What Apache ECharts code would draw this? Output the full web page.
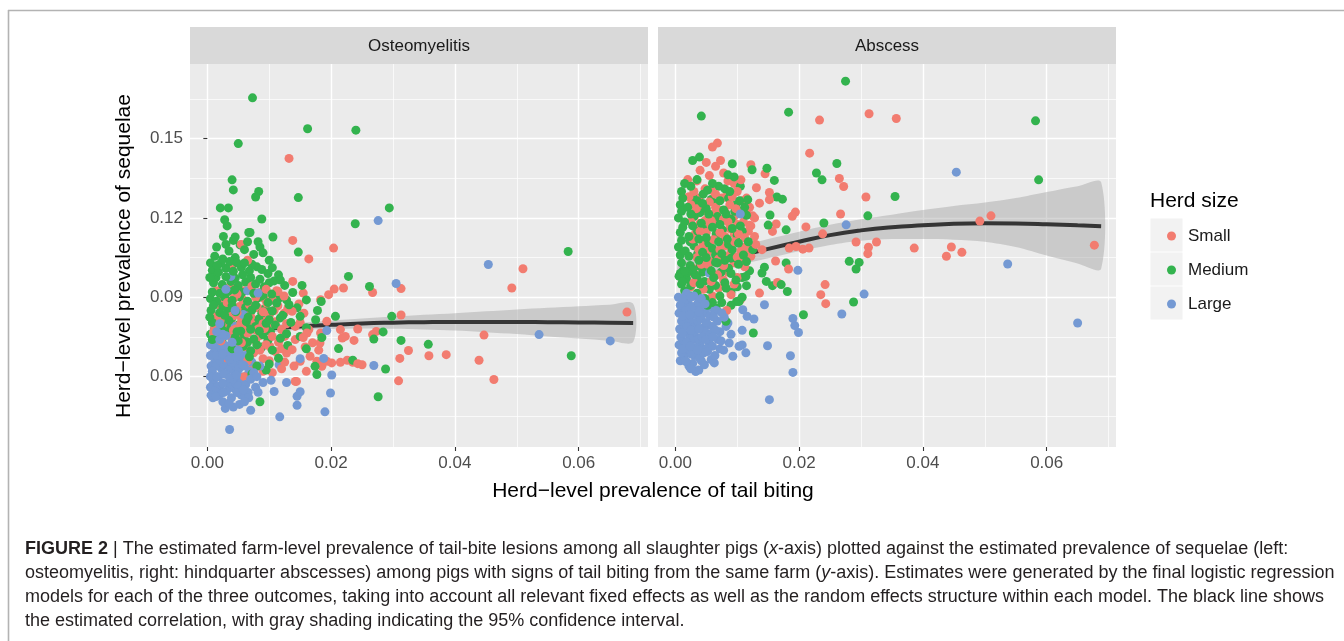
<!DOCTYPE html>
<html>
<head>
<meta charset="utf-8">
<script src="https://cdn.jsdelivr.net/npm/echarts@6/dist/echarts.min.js"></script>
<style>
html,body{margin:0;padding:0;background:#fff;}
#chart{width:1344px;height:641px;}
</style>
</head>
<body>
<div id="chart"></div>
<script>
// ---------- DATA ----------
const panels = ['Osteomyelitis', 'Abscess'];
const sizeNames = ['Small', 'Medium', 'Large'];
const xTicks = [0, 0.02, 0.04, 0.06];
const xMinor = [0.01, 0.03, 0.05, 0.07];
const yTicks = [0.06, 0.09, 0.12, 0.15];
const yMinor = [0.045, 0.075, 0.105, 0.135, 0.165];

const oSmall = [
[0.0015,0.0925],[0.0028,0.0935],[0.0037,0.0938],[0.0048,0.0912],[0.0060,0.0925],[0.0072,0.0942],[0.0085,0.0918],[0.0095,0.0930],[0.0112,0.0925],[0.0124,0.0905],
[0.0020,0.0870],[0.0032,0.0880],[0.0052,0.0865],[0.0068,0.0872],[0.0082,0.0860],[0.0096,0.0878],[0.0114,0.0868],[0.0130,0.0858],[0.0148,0.0875],
[0.0016,0.0828],[0.0026,0.0820],[0.0042,0.0830],[0.0055,0.0822],[0.0070,0.0828],[0.0087,0.0818],[0.0100,0.0832],[0.0124,0.0840],[0.0137,0.0847],[0.0156,0.0840],
[0.0012,0.0785],[0.0030,0.0792],[0.0046,0.0780],[0.0062,0.0788],[0.0080,0.0775],[0.0098,0.0786],[0.0120,0.0778],[0.0142,0.0790],[0.0161,0.0765],[0.0164,0.0778],[0.0183,0.0765],[0.0193,0.0809],
[0.0022,0.0735],[0.0040,0.0740],[0.0055,0.0728],[0.0078,0.0735],[0.0095,0.0721],[0.0101,0.0714],[0.0115,0.0730],[0.0142,0.0740],[0.0170,0.0728],
[0.0021,0.0670],[0.0032,0.0670],[0.0053,0.0683],[0.0075,0.0690],[0.0090,0.0668],[0.0110,0.0695],[0.0128,0.0689],[0.0137,0.0702],[0.0150,0.0658],[0.0166,0.0677],[0.0177,0.0658],[0.0185,0.0639],[0.0193,0.0658],[0.0201,0.0652],
[0.0069,0.0626],[0.0080,0.0639],[0.0105,0.0615],[0.0120,0.0630],[0.0142,0.0582],[0.0060,0.0600],[0.0045,0.0640],
[0.0055,0.1100],[0.0040,0.1020],[0.0065,0.1040],
[0.0025,0.0900],[0.0042,0.0895],[0.0058,0.0890],[0.0078,0.0900],[0.0092,0.0895],[0.0105,0.0890],
[0.0035,0.0850],[0.0048,0.0842],[0.0062,0.0848],[0.0090,0.0845],[0.0108,0.0850],
[0.0020,0.0805],[0.0038,0.0808],[0.0054,0.0800],[0.0072,0.0805],[0.0090,0.0800],[0.0110,0.0808],[0.0128,0.0800],[0.0150,0.0805],
[0.0030,0.0760],[0.0048,0.0758],[0.0065,0.0765],[0.0085,0.0755],[0.0105,0.0752],[0.0125,0.0752],[0.0155,0.0748],
[0.0035,0.0710],[0.0048,0.0700],[0.0062,0.0712],[0.0085,0.0700],[0.0120,0.0705],[0.0158,0.0712],[0.0180,0.0700],
[0.0065,0.0660],[0.0100,0.0660],[0.0125,0.0655],[0.0140,0.0640],[0.0160,0.0620],[0.0090,0.0620],
[0.0010,0.0768],[0.0035,0.0772],[0.0058,0.0776],[0.0075,0.0780],[0.0092,0.0782],
[0.0018,0.0772],[0.0042,0.0775],[0.0066,0.0778],[0.0083,0.0781],[0.0100,0.0783],
[0.0132,0.1425],[0.0138,0.1115],[0.0204,0.1086],[0.0164,0.1045],[0.0155,0.0916],[0.0138,0.0960],[0.0114,0.0922],[0.0183,0.0891],[0.0196,0.0910],[0.0205,0.0931],[0.0220,0.0935],
[0.0215,0.0778],[0.0223,0.0752],[0.0218,0.0746],[0.0237,0.0737],[0.0243,0.0780],[0.0267,0.0759],[0.0273,0.0771],
[0.0215,0.0654],[0.0235,0.0654],[0.0243,0.0649],[0.0226,0.0662],[0.0250,0.0645],[0.0267,0.0918],
[0.0313,0.0933],[0.0313,0.0833],[0.0311,0.0669],[0.0309,0.0584],[0.0325,0.0699],[0.0358,0.0679],[0.0386,0.0683],[0.0439,0.0662],[0.0447,0.0757],[0.0463,0.0589],[0.0492,0.0935],[0.0510,0.1008],[0.0678,0.0844],
[0.0144,0.0582],[0.0182,0.0727]
];
const oMedium = [
[0.0073,0.1654],[0.0162,0.1537],[0.0240,0.1532],[0.0050,0.1481],[0.0040,0.1344],[0.0042,0.1306],[0.0083,0.1300],[0.0078,0.1279],[0.0147,0.1277],[0.0294,0.1238],
[0.0021,0.1238],[0.0034,0.1238],[0.0239,0.1178],[0.0028,0.1193],[0.0032,0.1170],[0.0088,0.1196],[0.0069,0.1145],[0.0067,0.1145],[0.0026,0.1130],[0.0045,0.1128],[0.0106,0.1128],[0.0082,0.1110],[0.0147,0.1071],
[0.0012,0.1055],[0.0025,0.1045],[0.0035,0.1075],[0.0045,0.1050],[0.0060,0.1080],[0.0075,0.1062],[0.0090,0.1068],[0.0053,0.1098],[0.0022,0.1030],
[0.0008,0.1002],[0.0018,0.0995],[0.0030,0.1010],[0.0042,0.0998],[0.0055,0.1012],[0.0068,0.1000],[0.0080,0.1015],[0.0098,0.0990],[0.0115,0.0985],[0.0048,0.1030],
[0.0010,0.0955],[0.0024,0.0948],[0.0038,0.0960],[0.0050,0.0945],[0.0062,0.0958],[0.0078,0.0950],[0.0092,0.0940],[0.0108,0.0962],[0.0125,0.0945],[0.0153,0.0945],
[0.0005,0.0895],[0.0015,0.0885],[0.0028,0.0900],[0.0040,0.0888],[0.0052,0.0902],[0.0065,0.0885],[0.0082,0.0898],[0.0098,0.0880],[0.0115,0.0895],[0.0132,0.0872],[0.0145,0.0860],[0.0160,0.0890],
[0.0006,0.0850],[0.0020,0.0842],[0.0033,0.0858],[0.0046,0.0845],[0.0058,0.0838],[0.0072,0.0852],[0.0088,0.0840],[0.0105,0.0848],[0.0122,0.0832],[0.0178,0.0850],[0.0184,0.0884],
[0.0008,0.0805],[0.0022,0.0798],[0.0035,0.0812],[0.0050,0.0795],[0.0063,0.0808],[0.0078,0.0790],[0.0095,0.0802],[0.0110,0.0795],[0.0135,0.0805],[0.0175,0.0815],[0.0207,0.0828],
[0.0005,0.0760],[0.0018,0.0752],[0.0030,0.0765],[0.0045,0.0748],[0.0060,0.0755],[0.0075,0.0742],[0.0090,0.0758],[0.0118,0.0745],[0.0150,0.0752],[0.0185,0.0748],
[0.0012,0.0720],[0.0040,0.0705],[0.0058,0.0715],[0.0070,0.0698],[0.0088,0.0712],[0.0105,0.0700],[0.0130,0.0718],[0.0160,0.0705],
[0.0060,0.0655],[0.0080,0.0640],[0.0095,0.0625],[0.0072,0.0610],[0.0045,0.0575],[0.0174,0.0639],[0.0177,0.0608],[0.0085,0.0505],
[0.0015,0.1090],[0.0030,0.1100],[0.0042,0.1115],[0.0065,0.1110],[0.0085,0.1090],[0.0100,0.1040],
[0.0005,0.1030],[0.0016,0.1020],[0.0036,0.1035],[0.0060,0.1030],[0.0072,0.1025],[0.0088,0.1005],[0.0105,0.1012],
[0.0004,0.0975],[0.0014,0.0975],[0.0030,0.0978],[0.0045,0.0972],[0.0057,0.0985],[0.0070,0.0975],[0.0085,0.0968],[0.0100,0.0955],[0.0118,0.0965],
[0.0008,0.0920],[0.0020,0.0915],[0.0034,0.0922],[0.0044,0.0928],[0.0056,0.0918],[0.0075,0.0915],[0.0090,0.0905],[0.0104,0.0912],[0.0138,0.0918],
[0.0010,0.0870],[0.0025,0.0865],[0.0040,0.0868],[0.0062,0.0862],[0.0078,0.0870],[0.0094,0.0858],[0.0112,0.0878],[0.0128,0.0890],
[0.0004,0.0825],[0.0015,0.0818],[0.0028,0.0832],[0.0040,0.0822],[0.0066,0.0825],[0.0083,0.0818],[0.0100,0.0815],[0.0118,0.0822],[0.0150,0.0828],
[0.0012,0.0780],[0.0025,0.0775],[0.0038,0.0785],[0.0054,0.0772],[0.0068,0.0780],[0.0084,0.0772],[0.0102,0.0770],[0.0128,0.0762],[0.0160,0.0785],
[0.0008,0.0740],[0.0024,0.0730],[0.0050,0.0735],[0.0065,0.0730],[0.0080,0.0720],[0.0098,0.0738],
[0.0115,0.0670],[0.0100,0.0648],[0.0068,0.0675],
[0.0020,0.0772],[0.0048,0.0770],[0.0085,0.0785],
[0.0028,0.0769],[0.0053,0.0777],[0.0070,0.0779],[0.0095,0.0784],
[0.0228,0.0979],[0.0262,0.0941],[0.0269,0.0742],[0.0288,0.0629],[0.0276,0.0524],[0.0313,0.0737],[0.0357,0.0722],[0.0298,0.0828],[0.0284,0.0769],
[0.0583,0.1073],[0.0588,0.0679],[0.0235,0.0662],[0.0212,0.0706]
];
const oLarge = [
[0.0005,0.0720],[0.0010,0.0690],[0.0012,0.0655],[0.0008,0.0620],[0.0010,0.0580],[0.0012,0.0545],[0.0009,0.0520],
[0.0020,0.0740],[0.0022,0.0700],[0.0020,0.0665],[0.0023,0.0630],[0.0018,0.0600],[0.0021,0.0565],[0.0019,0.0530],[0.0025,0.0505],
[0.0030,0.0755],[0.0032,0.0715],[0.0030,0.0680],[0.0033,0.0645],[0.0030,0.0610],[0.0034,0.0575],[0.0031,0.0545],[0.0029,0.0480],
[0.0040,0.0730],[0.0042,0.0690],[0.0040,0.0655],[0.0043,0.0620],[0.0041,0.0590],[0.0044,0.0555],[0.0039,0.0520],[0.0042,0.0485],
[0.0050,0.0700],[0.0052,0.0665],[0.0051,0.0630],[0.0054,0.0600],[0.0050,0.0565],[0.0055,0.0530],[0.0052,0.0495],
[0.0062,0.0680],[0.0060,0.0640],[0.0064,0.0605],[0.0062,0.0570],[0.0066,0.0540],[0.0060,0.0505],
[0.0072,0.0655],[0.0075,0.0615],[0.0078,0.0560],
[0.0005,0.0680],[0.0006,0.0640],[0.0005,0.0600],[0.0005,0.0560],[0.0006,0.0530],
[0.0015,0.0715],[0.0015,0.0680],[0.0014,0.0640],[0.0015,0.0600],[0.0016,0.0560],[0.0014,0.0525],
[0.0026,0.0720],[0.0025,0.0685],[0.0026,0.0648],[0.0027,0.0610],[0.0025,0.0575],[0.0026,0.0540],
[0.0036,0.0700],[0.0036,0.0665],[0.0037,0.0630],[0.0036,0.0595],[0.0038,0.0560],[0.0035,0.0500],
[0.0046,0.0710],[0.0047,0.0675],[0.0046,0.0640],[0.0047,0.0605],[0.0046,0.0575],[0.0048,0.0540],
[0.0056,0.0680],[0.0057,0.0645],[0.0056,0.0580],[0.0058,0.0550],
[0.0068,0.0620],[0.0070,0.0590],[0.0067,0.0520],[0.0080,0.0600],[0.0085,0.0640],[0.0025,0.0760],[0.0010,0.0760],
[0.0015,0.0770],[0.0045,0.0790],[0.0030,0.0930],[0.0065,0.0925],[0.0045,0.0850],[0.0058,0.0835],[0.0020,0.0800],
[0.0276,0.1190],[0.0305,0.0952],[0.0454,0.1024],[0.0536,0.0759],[0.0651,0.0735],[0.0269,0.0642],[0.0201,0.0606],[0.0199,0.0538],[0.0190,0.0467],[0.0193,0.0774],
[0.0145,0.0492],[0.0150,0.0543],[0.0145,0.0526],[0.0117,0.0448],[0.0108,0.0544],[0.0128,0.0578],[0.0150,0.0668],[0.0188,0.0669],[0.0116,0.0645],
[0.0036,0.0400],[0.0070,0.0473],[0.0082,0.0541],[0.0038,0.0979],[0.0082,0.0916],[0.0090,0.0578],[0.0103,0.0586]
];

const aSmall = [
[0.0060,0.1468],[0.0068,0.1483],[0.0073,0.1417],[0.0040,0.1380],[0.0055,0.1360],[0.0085,0.1340],[0.0020,0.1345],
[0.0030,0.1300],[0.0048,0.1310],[0.0065,0.1290],[0.0082,0.1280],[0.0100,0.1300],[0.0115,0.1275],
[0.0025,0.1250],[0.0040,0.1240],[0.0055,0.1260],[0.0070,0.1230],[0.0088,0.1250],[0.0105,0.1225],[0.0120,0.1240],
[0.0032,0.1210],[0.0048,0.1190],[0.0062,0.1215],[0.0078,0.1195],[0.0095,0.1205],[0.0110,0.1185],[0.0128,0.1200],
[0.0040,0.1150],[0.0056,0.1170],[0.0072,0.1145],[0.0088,0.1160],[0.0102,0.1140],[0.0118,0.1150],
[0.0028,0.1120],[0.0045,0.1100],[0.0062,0.1118],[0.0080,0.1095],[0.0096,0.1110],[0.0112,0.1090],[0.0130,0.1100],[0.0140,0.1080],
[0.0035,0.1050],[0.0052,0.1070],[0.0070,0.1045],[0.0088,0.1060],[0.0106,0.1040],[0.0122,0.1055],
[0.0030,0.0990],[0.0050,0.1005],[0.0068,0.0985],[0.0085,0.0995],[0.0100,0.0975],
[0.0025,0.0940],[0.0045,0.0930],[0.0070,0.0935],[0.0090,0.0910],[0.0105,0.0890],[0.0083,0.0850],
[0.0035,0.1340],[0.0050,0.1410],[0.0065,0.1395],[0.0078,0.1370],[0.0095,0.1330],
[0.0022,0.1280],[0.0038,0.1275],[0.0058,0.1305],[0.0075,0.1275],[0.0092,0.1280],[0.0108,0.1265],
[0.0034,0.1235],[0.0050,0.1225],[0.0065,0.1240],[0.0080,0.1225],[0.0098,0.1235],[0.0115,0.1220],
[0.0025,0.1185],[0.0040,0.1180],[0.0058,0.1190],[0.0070,0.1180],[0.0085,0.1185],[0.0100,0.1175],[0.0122,0.1170],
[0.0032,0.1140],[0.0050,0.1145],[0.0066,0.1135],[0.0080,0.1130],[0.0095,0.1140],[0.0112,0.1125],[0.0128,0.1130],
[0.0038,0.1080],[0.0055,0.1090],[0.0072,0.1080],[0.0090,0.1085],[0.0106,0.1075],[0.0120,0.1080],
[0.0042,0.1025],[0.0060,0.1035],[0.0078,0.1020],[0.0095,0.1030],[0.0112,0.1015],
[0.0035,0.0965],[0.0058,0.0960],[0.0078,0.0965],[0.0095,0.0950],[0.0060,0.0905],[0.0030,0.0955],
[0.0028,0.1010],[0.0052,0.1025],[0.0078,0.1040],[0.0100,0.1052],
[0.0217,0.1445],[0.0233,0.1570],[0.0313,0.1594],[0.0357,0.1576],[0.0122,0.1401],[0.0145,0.1367],[0.0131,0.1314],[0.0265,0.1349],[0.0272,0.1319],[0.0308,0.1279],
[0.0267,0.1215],[0.0136,0.1256],[0.0152,0.1296],[0.0152,0.1269],[0.0194,0.1222],[0.0189,0.1206],[0.0211,0.1166],[0.0238,0.1140],[0.0292,0.1109],[0.0325,0.1109],
[0.0312,0.1089],[0.0311,0.1065],[0.0184,0.1086],[0.0195,0.1092],[0.0206,0.1082],[0.0216,0.1086],[0.0162,0.1037],[0.0183,0.1007],[0.0242,0.0948],[0.0235,0.0910],
[0.0243,0.0876],[0.0165,0.0956],[0.0136,0.0916],[0.0125,0.1208],[0.0120,0.1172],[0.0163,0.1177],[0.0157,0.1149],[0.0106,0.1344],
[0.0386,0.1086],[0.0446,0.1090],[0.0438,0.1055],[0.0463,0.1070],[0.0492,0.1188],[0.0510,0.1208],[0.0677,0.1097]
];
const aMedium = [
[0.0010,0.1300],[0.0025,0.1320],[0.0045,0.1290],[0.0060,0.1330],[0.0080,0.1310],[0.0095,0.1355],[0.0028,0.1417],[0.0039,0.1430],[0.0092,0.1405],[0.0085,0.1363],
[0.0008,0.1250],[0.0020,0.1240],[0.0035,0.1265],[0.0050,0.1235],[0.0065,0.1255],[0.0078,0.1230],[0.0098,0.1250],[0.0112,0.1240],
[0.0005,0.1200],[0.0015,0.1185],[0.0030,0.1205],[0.0042,0.1180],[0.0058,0.1195],[0.0072,0.1175],[0.0090,0.1195],[0.0105,0.1170],
[0.0008,0.1145],[0.0022,0.1130],[0.0036,0.1150],[0.0050,0.1125],[0.0066,0.1140],[0.0084,0.1120],[0.0100,0.1135],[0.0118,0.1110],
[0.0005,0.1090],[0.0016,0.1075],[0.0030,0.1095],[0.0044,0.1070],[0.0060,0.1085],[0.0075,0.1065],[0.0092,0.1080],[0.0110,0.1060],[0.0125,0.1080],
[0.0010,0.1030],[0.0024,0.1020],[0.0038,0.1040],[0.0052,0.1015],[0.0068,0.1030],[0.0086,0.1010],[0.0102,0.1025],[0.0120,0.1000],
[0.0006,0.0980],[0.0018,0.0970],[0.0032,0.0985],[0.0047,0.0960],[0.0062,0.0975],[0.0080,0.0955],[0.0098,0.0965],
[0.0015,0.0925],[0.0035,0.0915],[0.0055,0.0930],[0.0072,0.0905],[0.0090,0.0920],[0.0108,0.0900],
[0.0040,0.0870],[0.0060,0.0880],[0.0066,0.0859],[0.0082,0.0809],[0.0099,0.0884],
[0.0015,0.1330],[0.0035,0.1345],[0.0052,0.1305],[0.0070,0.1320],[0.0088,0.1300],[0.0105,0.1320],
[0.0012,0.1275],[0.0028,0.1280],[0.0044,0.1255],[0.0058,0.1270],[0.0072,0.1265],[0.0086,0.1275],[0.0104,0.1265],
[0.0010,0.1225],[0.0025,0.1215],[0.0040,0.1220],[0.0054,0.1215],[0.0068,0.1205],[0.0082,0.1215],[0.0096,0.1225],[0.0115,0.1210],
[0.0012,0.1165],[0.0028,0.1170],[0.0044,0.1160],[0.0060,0.1165],[0.0076,0.1155],[0.0092,0.1160],[0.0108,0.1150],
[0.0010,0.1115],[0.0024,0.1110],[0.0038,0.1120],[0.0054,0.1105],[0.0070,0.1110],[0.0086,0.1100],[0.0102,0.1105],
[0.0008,0.1060],[0.0022,0.1055],[0.0036,0.1065],[0.0050,0.1050],[0.0065,0.1060],[0.0080,0.1040],[0.0096,0.1050],[0.0115,0.1035],
[0.0012,0.1000],[0.0028,0.1005],[0.0044,0.0995],[0.0058,0.1000],[0.0074,0.0995],[0.0090,0.0990],[0.0108,0.0975],
[0.0010,0.0950],[0.0025,0.0945],[0.0040,0.0950],[0.0065,0.0945],[0.0082,0.0935],[0.0100,0.0940],
[0.0025,0.0905],[0.0048,0.0895],[0.0075,0.0880],[0.0090,0.0870],[0.0052,0.0870],
[0.0008,0.0990],[0.0020,0.0995],[0.0035,0.0975],[0.0012,0.0960],[0.0045,0.1010],
[0.0015,0.0998],[0.0040,0.1018],[0.0065,0.1032],[0.0090,0.1048],
[0.0275,0.1717],[0.0183,0.1600],[0.0042,0.1585],[0.0582,0.1567],[0.0587,0.1344],[0.0124,0.1382],[0.0148,0.1388],[0.0160,0.1342],[0.0228,0.1370],[0.0237,0.1344],
[0.0261,0.1406],[0.0355,0.1281],[0.0117,0.1269],[0.0164,0.1279],[0.0173,0.1271],[0.0153,0.1211],[0.0240,0.1181],[0.0311,0.1208],[0.0150,0.1173],[0.0179,0.1155],
[0.0281,0.1036],[0.0297,0.1032],[0.0292,0.1007],[0.0179,0.1030],[0.0144,0.1014],[0.0140,0.0992],[0.0147,0.0960],[0.0157,0.0944],[0.0171,0.0948],[0.0181,0.0922],
[0.0207,0.0834],[0.0288,0.0882],[0.0126,0.0765],[0.0115,0.0944],[0.0114,0.0979],[0.0103,0.0884]
];
const aLarge = [
[0.0005,0.0900],[0.0008,0.0870],[0.0006,0.0840],[0.0010,0.0810],[0.0007,0.0780],[0.0009,0.0750],[0.0006,0.0720],[0.0010,0.0690],[0.0008,0.0660],
[0.0018,0.0915],[0.0020,0.0880],[0.0017,0.0850],[0.0021,0.0820],[0.0019,0.0790],[0.0022,0.0760],[0.0018,0.0730],[0.0020,0.0700],[0.0017,0.0658],[0.0022,0.0640],
[0.0030,0.0905],[0.0032,0.0865],[0.0029,0.0835],[0.0033,0.0800],[0.0031,0.0770],[0.0030,0.0740],[0.0034,0.0710],[0.0031,0.0680],[0.0033,0.0620],[0.0028,0.0650],
[0.0042,0.0895],[0.0044,0.0855],[0.0041,0.0820],[0.0045,0.0785],[0.0043,0.0750],[0.0040,0.0720],[0.0046,0.0690],[0.0042,0.0660],[0.0038,0.0625],
[0.0054,0.0870],[0.0056,0.0830],[0.0053,0.0795],[0.0057,0.0760],[0.0055,0.0725],[0.0052,0.0695],[0.0058,0.0665],
[0.0066,0.0850],[0.0068,0.0810],[0.0065,0.0775],[0.0069,0.0740],[0.0063,0.0652],[0.0072,0.0705],
[0.0079,0.0825],[0.0082,0.0790],[0.0087,0.0727],[0.0093,0.0677],[0.0075,0.0841],[0.0085,0.0803],
[0.0012,0.0895],[0.0013,0.0860],[0.0012,0.0830],[0.0014,0.0795],[0.0012,0.0765],[0.0013,0.0735],[0.0012,0.0705],[0.0014,0.0675],
[0.0025,0.0900],[0.0026,0.0865],[0.0024,0.0835],[0.0026,0.0805],[0.0025,0.0775],[0.0027,0.0745],[0.0024,0.0715],[0.0026,0.0685],[0.0025,0.0630],
[0.0037,0.0880],[0.0038,0.0845],[0.0036,0.0810],[0.0038,0.0780],[0.0037,0.0745],[0.0036,0.0700],[0.0039,0.0670],
[0.0048,0.0875],[0.0049,0.0840],[0.0050,0.0805],[0.0048,0.0770],[0.0049,0.0740],[0.0050,0.0705],[0.0047,0.0645],
[0.0060,0.0860],[0.0062,0.0825],[0.0060,0.0790],[0.0061,0.0750],[0.0060,0.0715],[0.0064,0.0680],
[0.0072,0.0770],[0.0074,0.0735],[0.0078,0.0700],[0.0090,0.0760],
[0.0055,0.0992],[0.0105,0.1215],
[0.0152,0.0513],[0.0190,0.0616],[0.0186,0.0679],[0.0149,0.0717],[0.0114,0.0690],[0.0199,0.0767],[0.0193,0.0793],[0.0190,0.0820],[0.0144,0.0872],[0.0198,0.1002],
[0.0269,0.0837],[0.0305,0.0912],[0.0276,0.1174],[0.0127,0.0818],[0.0116,0.0828],[0.0108,0.0775],[0.0108,0.0720],[0.0109,0.0853],[0.0454,0.1373],[0.0537,0.1026],
[0.0650,0.0803],[0.0103,0.0715],[0.0033,0.0620],[0.0017,0.0658]
];

// fitted smooth + 95% band (shared x grid)
const fitX   = [0.0007,0.005,0.01,0.015,0.02,0.025,0.03,0.035,0.04,0.045,0.05,0.055,0.06,0.065,0.0688];
const oFit   = [0.0770,0.0776,0.0782,0.0790,0.0796,0.0801,0.0804,0.0806,0.0807,0.0807,0.0807,0.0806,0.0805,0.0804,0.0803];
const oUpper = [0.0800,0.0798,0.0797,0.0803,0.0812,0.0820,0.0827,0.0834,0.0840,0.0847,0.0854,0.0860,0.0866,0.0872,0.0876];
const oLower = [0.0740,0.0754,0.0767,0.0777,0.0780,0.0782,0.0781,0.0778,0.0774,0.0768,0.0761,0.0752,0.0744,0.0736,0.0731];
const aFit   = [0.0995,0.1023,0.1054,0.1083,0.1110,0.1135,0.1153,0.1165,0.1172,0.1178,0.1180,0.1179,0.1176,0.1172,0.1169];
const aUpper = [0.1040,0.1060,0.1090,0.1120,0.1148,0.1174,0.1195,0.1212,0.1230,0.1245,0.1258,0.1275,0.1298,0.1320,0.1335];
const aLower = [0.0950,0.0985,0.1020,0.1048,0.1074,0.1098,0.1114,0.1120,0.1120,0.1118,0.1110,0.1090,0.1058,0.1028,0.1008];

const captionLines = [
  '{b|FIGURE 2} | The estimated farm-level prevalence of tail-bite lesions among all slaughter pigs ({i|x}-axis) plotted against the estimated prevalence of sequelae (left:',
  'osteomyelitis, right: hindquarter abscesses) among pigs with signs of tail biting from the same farm ({i|y}-axis). Estimates were generated by the final logistic regression',
  'models for each of the three outcomes, taking into account all relevant fixed effects as well as the random effects structure within each model. The black line shows',
  'the estimated correlation, with gray shading indicating the 95% confidence interval.'
];

// ---------- STYLE / LAYOUT ----------
const FONT = 'Liberation Sans, Arial, Helvetica, sans-serif';
const colors = {Small:'#F27C70', Medium:'#33B34E', Large:'#7499D3'};
const X_MIN = -0.0028, X_MAX = 0.0712, Y_MIN = 0.0334, Y_MAX = 0.1782;
const gridTop = 64, gridH = 383, gridW = 458;
const gridLefts = [190, 658];
const CAP_SIZE = 18;

const chart = echarts.init(document.getElementById('chart'), null, {renderer:'canvas'});

const grids = gridLefts.map(l => ({left:l, top:gridTop, width:gridW, height:gridH, show:true, backgroundColor:'#EBEBEB', borderWidth:0, containLabel:false}));

const xAxes = [], yAxes = [];
gridLefts.forEach((l, gi) => {
  xAxes.push({
    type:'value', gridIndex:gi, min:X_MIN, max:X_MAX, position:'bottom',
    axisLine:{show:false},
    axisTick:{show:true, length:4, lineStyle:{color:'#333', width:1.1}, customValues:xTicks},
    axisLabel:{show:true, customValues:xTicks, color:'#4D4D4D', fontSize:17, fontFamily:FONT, margin:8,
      formatter:v => v.toFixed(2)},
    splitLine:{show:true, lineStyle:{color:'#FFFFFF', width:1.4}}
  });
  xAxes.push({
    type:'value', gridIndex:gi, min:X_MIN, max:X_MAX, position:'top',
    axisLine:{show:false},
    axisTick:{show:false, customValues:xMinor},
    axisLabel:{show:false, customValues:xMinor},
    splitLine:{show:true, lineStyle:{color:'#FFFFFF', width:0.7}}
  });
  yAxes.push({
    type:'value', gridIndex:gi, min:Y_MIN, max:Y_MAX, position:'left',
    axisLine:{show:false},
    axisTick:{show:gi===0, length:4, lineStyle:{color:'#333', width:1.1}, customValues:yTicks},
    axisLabel:{show:gi===0, customValues:yTicks, color:'#4D4D4D', fontSize:17, fontFamily:FONT, margin:7,
      formatter:v => v.toFixed(2)},
    splitLine:{show:true, lineStyle:{color:'#FFFFFF', width:1.4}}
  });
  yAxes.push({
    type:'value', gridIndex:gi, min:Y_MIN, max:Y_MAX, position:'right',
    axisLine:{show:false},
    axisTick:{show:false, customValues:yMinor},
    axisLabel:{show:false, customValues:yMinor},
    splitLine:{show:true, lineStyle:{color:'#FFFFFF', width:0.7}}
  });
});

const panelData = [
  {fit:oFit, up:oUpper, lo:oLower, pts:{Small:oSmall, Medium:oMedium, Large:oLarge}},
  {fit:aFit, up:aUpper, lo:aLower, pts:{Small:aSmall, Medium:aMedium, Large:aLarge}}
];

const series = [];
panelData.forEach((pd, gi) => {
  const xi = gi*2, yi = gi*2;
  series.push({
    type:'custom', coordinateSystem:'cartesian2d', xAxisIndex:xi, yAxisIndex:yi, silent:true, z:1,
    data:[[fitX[0], pd.fit[0]]],
    renderItem:(params, api) => {
      const pts = [];
      for (let i = 0; i < fitX.length; i++) pts.push(api.coord([fitX[i], pd.up[i]]));
      for (let i = fitX.length-1; i >= 0; i--) pts.push(api.coord([fitX[i], pd.lo[i]]));
      return {type:'polygon', shape:{points:pts, smooth:0.3}, style:{fill:'rgba(153,153,153,0.4)'}};
    }
  });
  series.push({
    type:'line', xAxisIndex:xi, yAxisIndex:yi, silent:true, smooth:true, symbol:'none', z:1,
    data:fitX.map((x,i)=>[x, pd.fit[i]]),
    lineStyle:{color:'#353535', width:4}
  });
  // points drawn in two interleaved passes so the groups overlap each other as in a row-ordered plot
  [0, 1].forEach(pass => {
    sizeNames.forEach(n => {
      series.push({
        name:n, type:'scatter', xAxisIndex:xi, yAxisIndex:yi, z:3,
        data:pd.pts[n].filter((_, i) => i % 2 === pass), symbol:'circle', symbolSize:9,
        itemStyle:{color:colors[n], opacity:1},
        large:false
      });
    });
  });
});

const graphic = [
  {type:'line', shape:{x1:8, y1:10.5, x2:1344, y2:10.5}, style:{stroke:'#B3B3B3', lineWidth:1.6}, silent:true},
  {type:'line', shape:{x1:8.5, y1:10, x2:8.5, y2:641}, style:{stroke:'#B3B3B3', lineWidth:1.6}, silent:true},
];
gridLefts.forEach((l, gi) => {
  graphic.push({type:'rect', shape:{x:l, y:27, width:gridW, height:37}, style:{fill:'#D9D9D9'}, silent:true});
  graphic.push({type:'text', x:l+gridW/2, y:46, style:{text:panels[gi], fill:'#1A1A1A', font:'17px '+FONT, textAlign:'center', textVerticalAlign:'middle'}, silent:true});
});
graphic.push({type:'text', x:653, y:491, style:{text:'Herd\u2212level prevalence of tail biting', fill:'#000', font:'21px '+FONT, textAlign:'center', textVerticalAlign:'middle'}, silent:true});
graphic.push({type:'text', x:124, y:256, rotation:Math.PI/2, style:{text:'Herd\u2212level prevalence of sequelae', fill:'#000', font:'21px '+FONT, textAlign:'center', textVerticalAlign:'middle'}, silent:true});
graphic.push({type:'text', x:1150, y:201, style:{text:'Herd size', fill:'#000', font:'21px '+FONT, textAlign:'left', textVerticalAlign:'middle'}, silent:true});
[0,1,2].forEach(i => {
  graphic.push({type:'rect', z:-1, shape:{x:1150.5, y:218.5 + i*34, width:32, height:33}, style:{fill:'#F2F2F2'}, silent:true});
});
captionLines.forEach((t, i) => {
  graphic.push({type:'text', x:25, y:549 + i*24, style:{
    text:t, fill:'#231F20', font:CAP_SIZE+'px '+FONT, textAlign:'left', textVerticalAlign:'middle',
    rich:{b:{fontWeight:'bold', fontSize:CAP_SIZE, fontFamily:FONT, fill:'#231F20'}, i:{fontStyle:'italic', fontSize:CAP_SIZE, fontFamily:FONT, fill:'#231F20'}}
  }, silent:true});
});

chart.setOption({
  animation:false,
  backgroundColor:'#FFFFFF',
  textStyle:{fontFamily:FONT},
  grid:grids,
  xAxis:xAxes,
  yAxis:yAxes,
  legend:{
    data:sizeNames, orient:'vertical', left:1162, top:222.5,
    icon:'circle', itemWidth:9, itemHeight:9, itemGap:17,
    textStyle:{fontSize:17, color:'#1A1A1A', fontFamily:FONT, lineHeight:17, padding:[0,0,0,7]},
    selectedMode:false
  },
  series:series,
  graphic:graphic
});
</script>
</body>
</html>
